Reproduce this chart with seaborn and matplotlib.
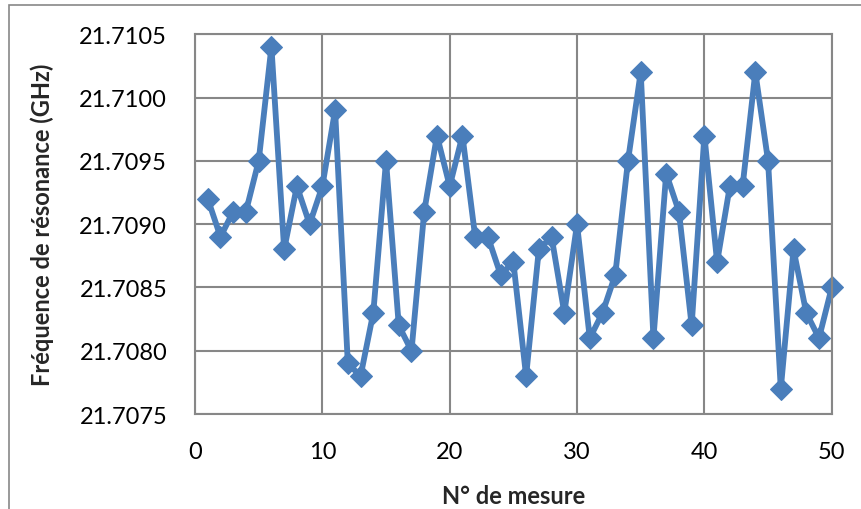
import matplotlib
matplotlib.use("Agg")
import matplotlib.pyplot as plt
import seaborn as sns
import pandas as pd
from matplotlib.patches import Rectangle

mesure = list(range(1, 51))
frequence = [21.7092, 21.7089, 21.7091, 21.7091, 21.7095, 21.7104, 21.7088, 21.7093, 21.7090, 21.7093,
             21.7099, 21.7079, 21.7078, 21.7083, 21.7095, 21.7082, 21.7080, 21.7091, 21.7097, 21.7093,
             21.7097, 21.7089, 21.7089, 21.7086, 21.7087, 21.7078, 21.7088, 21.7089, 21.7083, 21.7090,
             21.7081, 21.7083, 21.7086, 21.7095, 21.7102, 21.7081, 21.7094, 21.7091, 21.7082, 21.7097,
             21.7087, 21.7093, 21.7093, 21.7102, 21.7095, 21.7077, 21.7088, 21.7083, 21.7081, 21.7085]
x_ticks = [0, 10, 20, 30, 40, 50]
y_ticks = [21.7075, 21.7080, 21.7085, 21.7090, 21.7095, 21.7100, 21.7105]

df = pd.DataFrame({"mesure": mesure, "frequence": frequence})

sns.set_style("white")
plt.rcParams['font.family'] = ['Lato', 'DejaVu Sans']

fig = plt.figure(figsize=(8.61, 5.10), dpi=100)
ax = fig.add_axes([0.2265, 0.186, 0.7395, 0.745])

sns.lineplot(data=df, x="mesure", y="frequence", ax=ax, color="#4A7EBB", linewidth=4.2,
             marker="D", markersize=11.5, markeredgecolor="#4A7EBB", markerfacecolor="#4A7EBB",
             clip_on=False)

ax.set_xlim(0, 50)
ax.set_ylim(21.7075, 21.7105)
ax.set_xticks(x_ticks)
ax.set_yticks(y_ticks)
ax.set_yticklabels([f"{v:.4f}" for v in y_ticks])
ax.tick_params(axis='both', labelsize=17, length=0, colors="black")
ax.tick_params(axis='x', pad=19)
ax.tick_params(axis='y', pad=20)
ax.grid(True, color="#878787", linewidth=1.5)
ax.set_axisbelow(True)
for s in ax.spines.values():
    s.set_color("#878787")
    s.set_linewidth(1.5)

ax.set_xlabel("N° de mesure", fontsize=17, fontweight="bold", labelpad=16)
ax.set_ylabel("Fréquence de résonance (GHz)", fontsize=17, fontweight="bold")
ax.yaxis.set_label_coords(-0.221, 0.5)

fig.patches.append(Rectangle((0.0105, -0.05), 1.0, 1.038, transform=fig.transFigure,
                             fill=False, edgecolor="#878787", linewidth=1.2))

fig.savefig("out.png", dpi=100)
